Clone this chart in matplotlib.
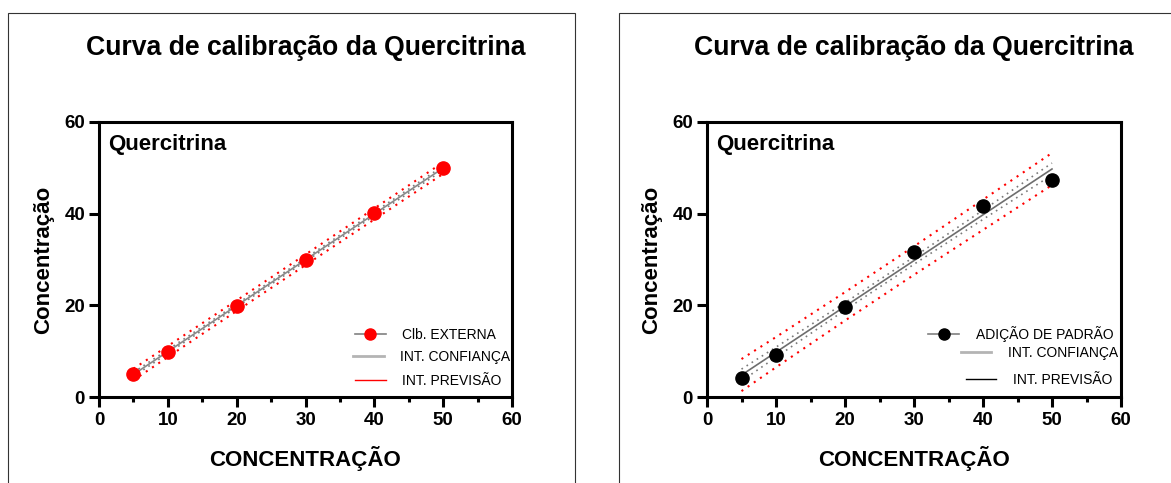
import numpy as np
import matplotlib
matplotlib.use("Agg")
import matplotlib.pyplot as plt
from matplotlib.lines import Line2D
from matplotlib.legend import Legend
from matplotlib.patches import Rectangle

plt.rcParams['font.family'] = ['Liberation Sans', 'DejaVu Sans']

# Standard concentrations and measured responses
conc = [5, 10, 20, 30, 40, 50]
resp_externa = [5.0, 9.9, 19.8, 29.9, 40.1, 49.9]
resp_adicao = [4.1, 9.2, 19.7, 31.6, 41.7, 47.3]

# Half-widths of the confidence / prediction bands at each concentration
conf_hw_externa = [0.45, 0.40, 0.35, 0.35, 0.40, 0.45]
pred_hw_externa = [1.25, 1.20, 1.15, 1.15, 1.20, 1.25]
conf_hw_adicao = [1.3, 1.1, 0.8, 0.8, 1.0, 1.3]
pred_hw_adicao = [3.5, 3.3, 3.1, 3.1, 3.3, 3.5]

titulo = "Curva de calibração da Quercitrina"
rotulo_x = "CONCENTRAÇÃO"
rotulo_y = "Concentração"
anotacao = "Quercitrina"
ticks_x = [0, 10, 20, 30, 40, 50, 60]
ticks_y = [0, 20, 40, 60]
leg_externa = ["Clb. EXTERNA", "INT. CONFIANÇA", "INT. PREVISÃO"]
leg_adicao = ["ADIÇÃO DE PADRÃO", "INT. CONFIANÇA", "INT. PREVISÃO"]

W, H = 1171, 483
fig = plt.figure(figsize=(W / 100, H / 100), dpi=100)
fig.patch.set_facecolor("white")


def px_axes(x0, x1, y_top, y_bot):
    return [x0 / W, 1 - y_bot / H, (x1 - x0) / W, (y_bot - y_top) / H]


def panel(rect, y, conf_hw, pred_hw, pt_color, fit_color, pred_leg_color,
          labels, leg_pos):
    ax = fig.add_axes(rect)
    x = np.asarray(conc, float)
    yv = np.asarray(y, float)
    slope, icpt = np.polyfit(x, yv, 1)
    fit = slope * x + icpt
    ch = np.asarray(conf_hw)
    ph = np.asarray(pred_hw)

    dots = (0, (1, 2.6))
    ax.plot(x, fit + ph, color="red", lw=1.5, ls=dots, zorder=2)
    ax.plot(x, fit - ph, color="red", lw=1.5, ls=dots, zorder=2)
    ax.plot(x, fit + ch, color="#7a7a7a", lw=1.2, ls=dots, zorder=2)
    ax.plot(x, fit - ch, color="#7a7a7a", lw=1.2, ls=dots, zorder=2)
    ax.plot(x, fit, color=fit_color, lw=1.2, zorder=3)
    ax.plot(x, yv, ls="none", marker="o", ms=9.5, color=pt_color, zorder=4)

    ax.set_xlim(0, 60)
    ax.set_ylim(0, 60)
    ax.set_xticks(ticks_x)
    ax.set_xticks(np.arange(5, 60, 10), minor=True)
    ax.set_yticks(ticks_y)
    for s in ax.spines.values():
        s.set_linewidth(2.2)
        s.set_color("black")
    ax.tick_params(axis="both", which="major", length=7, width=2.2,
                   labelsize=13.5, direction="out")
    ax.tick_params(axis="x", which="major", pad=4)
    ax.tick_params(axis="y", which="major", pad=3)
    ax.tick_params(axis="x", which="minor", length=3.6, width=2.2,
                   direction="out")
    for lab in ax.get_xticklabels() + ax.get_yticklabels():
        lab.set_fontweight("bold")

    ax.set_xlabel(rotulo_x, fontsize=16, fontweight="bold")
    ax.xaxis.set_label_coords(0.5, (397 - 466) / 275)
    ax.xaxis.label.set_verticalalignment("baseline")
    ax.set_ylabel(rotulo_y, fontsize=16, fontweight="bold")
    ax.yaxis.set_label_coords((54 - 99) / 413, 0.5)

    ax.text(0.022, (397 - 150) / 275, anotacao, transform=ax.transAxes,
            fontsize=16, fontweight="bold", va="baseline", ha="left")

    ax.text(0.5, (397 - 55) / 275, titulo, transform=ax.transAxes,
            fontsize=19.2, fontweight="bold", va="baseline", ha="center")

    handles = [
        Line2D([], [], color="#808080", lw=1.2, marker="o", ms=8,
               mfc=pt_color, mec=pt_color),
        Line2D([], [], color="#b4b4b4", lw=2.0),
        Line2D([], [], color=pred_leg_color, lw=1.0),
    ]
    for h, lab, (lx, ly) in zip(handles, labels, leg_pos):
        leg = Legend(ax, [h], [lab], loc="center left",
                     bbox_to_anchor=(lx, ly), frameon=False, fontsize=10,
                     handlelength=2.2, handletextpad=1.2, borderpad=0,
                     borderaxespad=0, numpoints=1)
        ax.add_artist(leg)
    return ax


panel(px_axes(99, 512, 122, 397), resp_externa, conf_hw_externa,
      pred_hw_externa, "red", "#8a8a8a", "red", leg_externa,
      [(0.620, 0.2255), (0.615, 0.1465), (0.620, 0.059)])

panel(px_axes(707, 1121, 122, 397), resp_adicao, conf_hw_adicao,
      pred_hw_adicao, "black", "#6e6e6e", "black", leg_adicao,
      [(0.535, 0.229), (0.6126, 0.160), (0.6247, 0.062)])

# Panel frames
fig.add_artist(Rectangle((8 / W, -0.1), (575 - 8) / W, 1.1 - 13.5 / H,
                         transform=fig.transFigure, fill=False,
                         ec="#333333", lw=0.8))
fig.add_artist(Rectangle((619 / W, -0.1), 1.0, 1.1 - 13.5 / H,
                         transform=fig.transFigure, fill=False,
                         ec="#333333", lw=0.8))

fig.savefig("out.png", dpi=100)
